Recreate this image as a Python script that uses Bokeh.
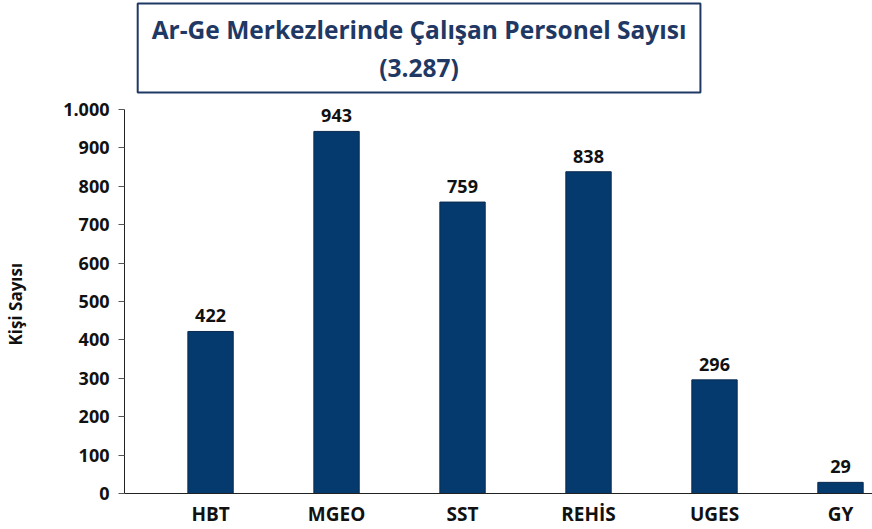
from bokeh.plotting import figure
from bokeh.models import Range1d, FixedTicker, Label, ColumnDataSource, LabelSet, Title
from bokeh.embed import file_html
from bokeh.resources import INLINE
from bokeh.core.properties import value

# data
categories = ["HBT", "MGEO", "SST", "REHİS", "UGES", "GY"]
counts = [422, 943, 759, 838, 296, 29]
y_ticks = [0, 100, 200, 300, 400, 500, 600, 700, 800, 900, 1000]
y_tick_labels = ["0", "100", "200", "300", "400", "500", "600", "700", "800", "900", "1.000"]
title_text = "Ar-Ge Merkezlerinde Çalışan Personel Sayısı\n(3.287)"
y_title = "Kişi Sayısı"

FONT = "Open Sans"
NAVY = "#1F3864"
BAR = "#053A6F"
TXT = "#111111"

xs = list(range(len(categories)))
src = ColumnDataSource(dict(x=xs, top=counts, lbl=[str(c) for c in counts]))

p = figure(width=872, height=529, output_backend="svg", toolbar_location=None,
           x_range=Range1d(-0.683, 5.254), y_range=Range1d(0, 1284),
           min_border_left=124, min_border_right=0, min_border_top=0, min_border_bottom=0)
p.outline_line_color = None
p.xgrid.visible = False
p.ygrid.visible = False

p.vbar(x="x", top="top", width=0.36, bottom=0, source=src,
       fill_color=BAR, line_color="#0B2A4E", line_width=1)

labels = LabelSet(x="x", y="top", text="lbl", source=src, text_align="center",
                  text_baseline="bottom", y_offset=9, text_font=value(FONT),
                  text_font_style="bold", text_font_size="18px", text_color=TXT)
p.add_layout(labels)

# axes
p.xaxis.ticker = FixedTicker(ticks=xs)
p.xaxis.major_label_overrides = {i: c for i, c in zip(xs, categories)}
p.xaxis.major_tick_line_color = None
p.xaxis.major_tick_out = 0
p.xaxis.major_tick_in = 0
p.xaxis.minor_tick_out = 0
p.xaxis.minor_tick_in = 0
p.xaxis.minor_tick_line_color = None
p.xaxis.major_label_standoff = 7
p.xaxis.axis_label_standoff = 0
p.xaxis.major_label_text_font = FONT
p.xaxis.major_label_text_font_style = "bold"
p.xaxis.major_label_text_font_size = "19px"
p.xaxis.major_label_text_color = TXT
p.xaxis.axis_line_color = "#222222"

p.yaxis.ticker = FixedTicker(ticks=y_ticks)
p.yaxis.major_label_overrides = {t: l for t, l in zip(y_ticks, y_tick_labels)}
p.yaxis.bounds = (0, 1000)
p.yaxis.minor_tick_line_color = None
p.yaxis.minor_tick_out = 0
p.yaxis.major_tick_out = 6
p.yaxis.major_tick_in = 0
p.yaxis.major_tick_line_color = "#555555"
p.yaxis.major_label_standoff = 9
p.yaxis.major_label_text_font = FONT
p.yaxis.major_label_text_font_style = "bold"
p.yaxis.major_label_text_font_size = "18px"
p.yaxis.major_label_text_color = TXT
p.yaxis.axis_line_color = "#222222"
# blank spacer label to push the axis title outward
p.yaxis.axis_label = "\u00a0"
p.yaxis.axis_label_standoff = 14
p.yaxis.axis_label_text_font_size = "16px"

# y axis title, positioned along the axis from the bottom
p.add_layout(Title(text=y_title, align="left", offset=148, text_font=FONT,
                   text_font_style="bold", text_font_size="17px", text_color=TXT,
                   standoff=0), "left")

# chart title box
p.add_layout(Label(x=1.655, y=1276, text=title_text, text_align="center", text_baseline="top",
                   text_font=FONT, text_font_style="bold", text_font_size="24.5px",
                   text_color=NAVY, text_line_height=1.15,
                   border_line_color=NAVY, border_line_width=2,
                   background_fill_color="white", padding=(14, 9)))

open("out.html", "w").write(file_html(p, INLINE))
